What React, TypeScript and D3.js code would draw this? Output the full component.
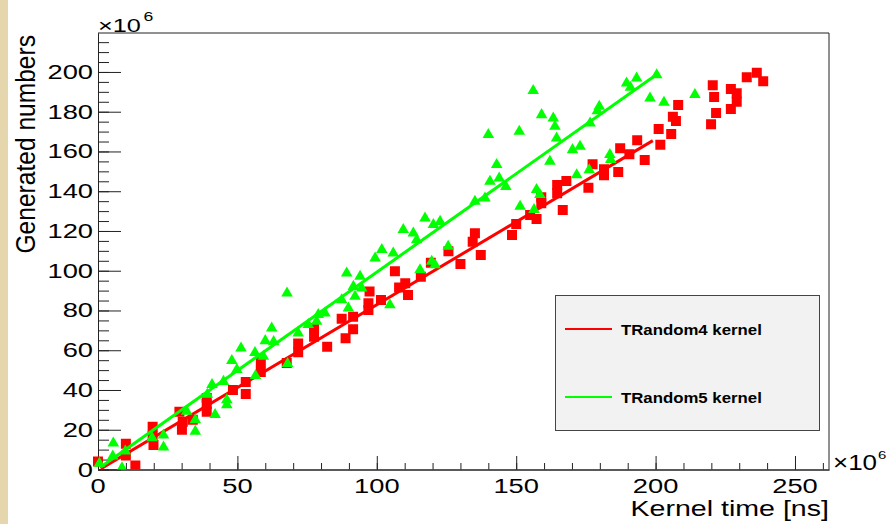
import React, { useEffect, useRef } from "react"
import * as d3 from "d3"

// kernel time (x1e6 ns) and generated numbers (x1e6)
const t4Time = [0, 10, 10, 13.4, 19.6, 19.6, 19.9, 29.2, 30.4, 30.1, 34, 39, 39, 39, 48.4, 53, 53, 58.4, 58.4, 67.7,
  71.8, 71.8, 77.5, 77.5, 82.2, 87.4, 91.5, 91.5, 88.8, 97, 97, 97.4, 101.5, 106.5, 110.2, 108, 111.2, 115.8, 119.4, 125.7,
  130, 135.2, 134.4, 137.3, 150, 148.5, 155, 157.3, 159, 159, 164.7, 164.7, 166.7, 168, 175.9, 177.4, 181.5, 181.5, 186.6, 187.3,
  190.6, 193.4, 196.1, 201.1, 201.7, 205.6, 206.2, 207.3, 208.1, 219.9, 220.5, 221, 221.7, 227, 227, 229.1, 229.1, 232.7, 236.3, 238.6]
const t4Gen = [4, 13, 7, 2, 21.5, 17, 12.3, 29, 24, 20, 25, 36, 33, 29, 40, 44, 38, 54, 49, 53.6,
  63.4, 59, 71, 66.8, 61.8, 75.8, 76.9, 70.6, 66, 83.6, 80.3, 89.5, 85.3, 99.8, 93.7, 91.6, 87.8, 97, 104, 109.8,
  103.4, 118.8, 114.6, 107.9, 123.5, 118, 128, 126, 137, 134, 143.1, 139, 130.6, 145.2, 141.8, 153.6, 151, 148, 149.7, 161.6,
  158.6, 165.6, 155.7, 171.3, 163.4, 168.8, 177.5, 175.3, 183.4, 173.7, 193.3, 187.4, 179.4, 191.4, 181.4, 189.3, 185, 197.3, 199.6, 195.3]

const t5Time = [0.5, 5.5, 5.3, 8.6, 9.8, 19.4, 23.5, 23.5, 31.8, 34.9, 34.9, 39.2, 40.9, 42, 45, 46.2, 46.2, 48, 49.8, 51.3,
  56.3, 56.5, 59.3, 60, 62.3, 63, 67.8, 68, 71.8, 75.4, 78.4, 79, 81.4, 87.4, 89.2, 89.8, 91.6, 92.2, 94, 94.6,
  99.4, 101.8, 104.7, 105.9, 109.5, 113.1, 114.3, 115.5, 117.3, 119.7, 120.3, 120.9, 122.7, 125.6, 135.2, 138.8, 140, 140.6, 143, 143.9,
  146.3, 151.1, 151.4, 156.1, 156.4, 157.3, 158.5, 159.1, 162.1, 163.3, 163.9, 164.5, 170.2, 171.7, 172.9, 176.2, 176.5, 179.1, 179.8, 183.6,
  183.9, 189.6, 191, 193.2, 198, 200.4, 203, 214.1]
const t5Gen = [3.8, 14, 7.5, 1.5, 10, 16.7, 18, 12, 30, 25.7, 19.9, 38.5, 43.4, 28.3, 45, 35.8, 33.3, 55.5, 51, 61.8,
  59.5, 48, 57.6, 65.5, 71.8, 65, 89.5, 54, 69.3, 73.6, 75.2, 78.6, 79.4, 86.1, 99.5, 81.9, 92.8, 87.8, 97.9, 92,
  107.1, 111.3, 83.6, 109.6, 121.4, 119.7, 116.3, 101.2, 127.2, 105.4, 123.9, 103.7, 125.5, 113, 135.6, 137.3, 169.2, 145.7, 154.1, 147.3,
  143.1, 170.8, 133.1, 191.3, 131.5, 141.5, 139, 179.2, 155.7, 177.5, 173.3, 167.4, 161.6, 149, 163.3, 151.5, 175, 181.2, 183.4, 159.1,
  156.6, 195.1, 193, 197.6, 187.6, 199.3, 185.4, 189.3]

// pol1 fits: p0, p1, xmin, xmax
const t4Fit = [-0.5, 0.834, 1, 199]
const t5Fit = [0.3, 0.99, 1, 200]

const xMajor = [0, 50, 100, 150, 200, 250]
const yMajor = [0, 20, 40, 60, 80, 100, 120, 140, 160, 180, 200]
const legendLabels = ["TRandom4 kernel", "TRandom5 kernel"]

const FONT = "'Liberation Sans', Arial, Helvetica, sans-serif"

export default function App() {
  const ref = useRef<SVGSVGElement>(null)

  useEffect(() => {
    const svg = d3.select(ref.current)
    svg.selectAll("*").remove()

    const left = 98, right = 829, top = 33, bottom = 469.5
    const x = d3.scaleLinear().domain([0, 262.2]).range([left, right])
    const y = d3.scaleLinear().domain([0, 219.6]).range([bottom, top])

    svg.append("rect").attr("width", 891).attr("height", 524).attr("fill", "#ffffff")
    svg.append("rect").attr("width", 8).attr("height", 524).attr("fill", "#e6d6ae")

    svg.append("clipPath").attr("id", "plotclip")
      .append("rect").attr("x", 85).attr("y", top).attr("width", right - 85).attr("height", bottom - top)

    // frame
    svg.append("path")
      .attr("d", `M${left},${top}H${right}V${bottom}`)
      .attr("fill", "none").attr("stroke", "#222").attr("stroke-width", 1)

    // y axis, ticks pointing into the frame
    const yMinor = d3.range(0, 216, 5)
    svg.append("g").attr("transform", `translate(${left},0)`)
      .call(d3.axisRight(y).tickValues(yMinor).tickSize(11).tickSizeOuter(0).tickFormat(() => ""))
    svg.append("g").attr("transform", `translate(${left},0)`)
      .call(d3.axisRight(y).tickValues(yMajor).tickSize(23).tickSizeOuter(0).tickFormat(() => ""))

    const xMinor = d3.range(0, 261, 10)
    svg.append("g").attr("transform", `translate(0,${bottom})`)
      .call(d3.axisTop(x).tickValues(xMinor).tickSize(6.5).tickSizeOuter(0).tickFormat(() => ""))
    svg.append("g").attr("transform", `translate(0,${bottom})`)
      .call(d3.axisTop(x).tickValues(xMajor).tickSize(13.5).tickSizeOuter(0).tickFormat(() => ""))

    svg.selectAll(".domain, .tick line").attr("stroke", "#222").attr("stroke-width", 1)

    // tick labels (stretched horizontally like the original)
    svg.append("g").selectAll("text").data(yMajor).join("text")
      .attr("transform", d => `translate(93,${y(d) + 7}) scale(1.4,1)`)
      .attr("text-anchor", "end").attr("font-family", FONT).attr("font-size", 19.5).attr("fill", "#000")
      .text(d => d)
    svg.append("g").selectAll("text").data(xMajor).join("text")
      .attr("transform", d => `translate(${x(d)},492.5) scale(1.4,1)`)
      .attr("text-anchor", "middle").attr("font-family", FONT).attr("font-size", 19.5).attr("fill", "#000")
      .text(d => d)

    // exponents
    svg.append("text").attr("transform", "translate(98,32) scale(1.36,1)")
      .attr("font-family", FONT).attr("font-size", 18.6).text("\u00d710")
    svg.append("text").attr("transform", "translate(143.5,21) scale(1.4,1)")
      .attr("font-family", FONT).attr("font-size", 12.6).text("6")
    svg.append("text").attr("transform", "translate(833,469.5) scale(1.18,1)")
      .attr("font-family", FONT).attr("font-size", 22).text("\u00d710")
    svg.append("text").attr("transform", "translate(878,459) scale(1.3,1)")
      .attr("font-family", FONT).attr("font-size", 11.5).text("6")

    // titles
    svg.append("text").attr("transform", "translate(829,515.5) scale(1.33,1)")
      .attr("text-anchor", "end").attr("font-family", FONT).attr("font-size", 21.5)
      .text("Kernel time [ns]")
    svg.append("text").attr("transform", "translate(35,35) rotate(-90) scale(1.17,1.28)")
      .attr("text-anchor", "end").attr("font-family", FONT).attr("font-size", 21)
      .text("Generated numbers")

    const plot = svg.append("g").attr("clip-path", "url(#plotclip)")
    const fitLine = (f: number[]) => d3.line<number>()
      .x(d => x(d)).y(d => y(f[0] + f[1] * d))([f[2], f[3]])

    // TRandom4: red squares + fit
    const sq = d3.symbol().type(d3.symbolSquare).size(100)
    plot.append("g").selectAll("path").data(t4Time).join("path")
      .attr("d", sq)
      .attr("transform", (d, i) => `translate(${x(d)},${y(t4Gen[i])})`)
      .attr("fill", "#ff0000")
    plot.append("path").attr("d", fitLine(t4Fit))
      .attr("stroke", "#ff0000").attr("stroke-width", 3).attr("fill", "none")

    // TRandom5: green triangles + fit
    const tri = d3.symbol().type(d3.symbolTriangle).size(58)
    plot.append("g").selectAll("path").data(t5Time).join("path")
      .attr("d", tri)
      .attr("transform", (d, i) => `translate(${x(d)},${y(t5Gen[i]) + 1.5})`)
      .attr("fill", "#00ff00")
    plot.append("path").attr("d", fitLine(t5Fit))
      .attr("stroke", "#00ff00").attr("stroke-width", 3).attr("fill", "none")

    // legend
    const leg = svg.append("g")
    leg.append("rect").attr("x", 555.5).attr("y", 295.5).attr("width", 264).attr("height", 135)
      .attr("fill", "#f2f2f2").attr("stroke", "#444").attr("stroke-width", 1)
    const colors = ["#ff0000", "#00ff00"]
    const rows = [329, 397]
    legendLabels.forEach((lab, i) => {
      leg.append("line").attr("x1", 565).attr("x2", 612).attr("y1", rows[i]).attr("y2", rows[i])
        .attr("stroke", colors[i]).attr("stroke-width", 2)
      leg.append("text").attr("transform", `translate(621,${rows[i] + 5.5}) scale(1.12,1)`)
        .attr("font-family", FONT).attr("font-weight", "bold").attr("font-size", 15)
        .text(lab)
    })
  }, [])

  return (
    <svg ref={ref} width={891} height={524} style={{ position: "absolute", left: 0, top: 0 }} />
  )
}
